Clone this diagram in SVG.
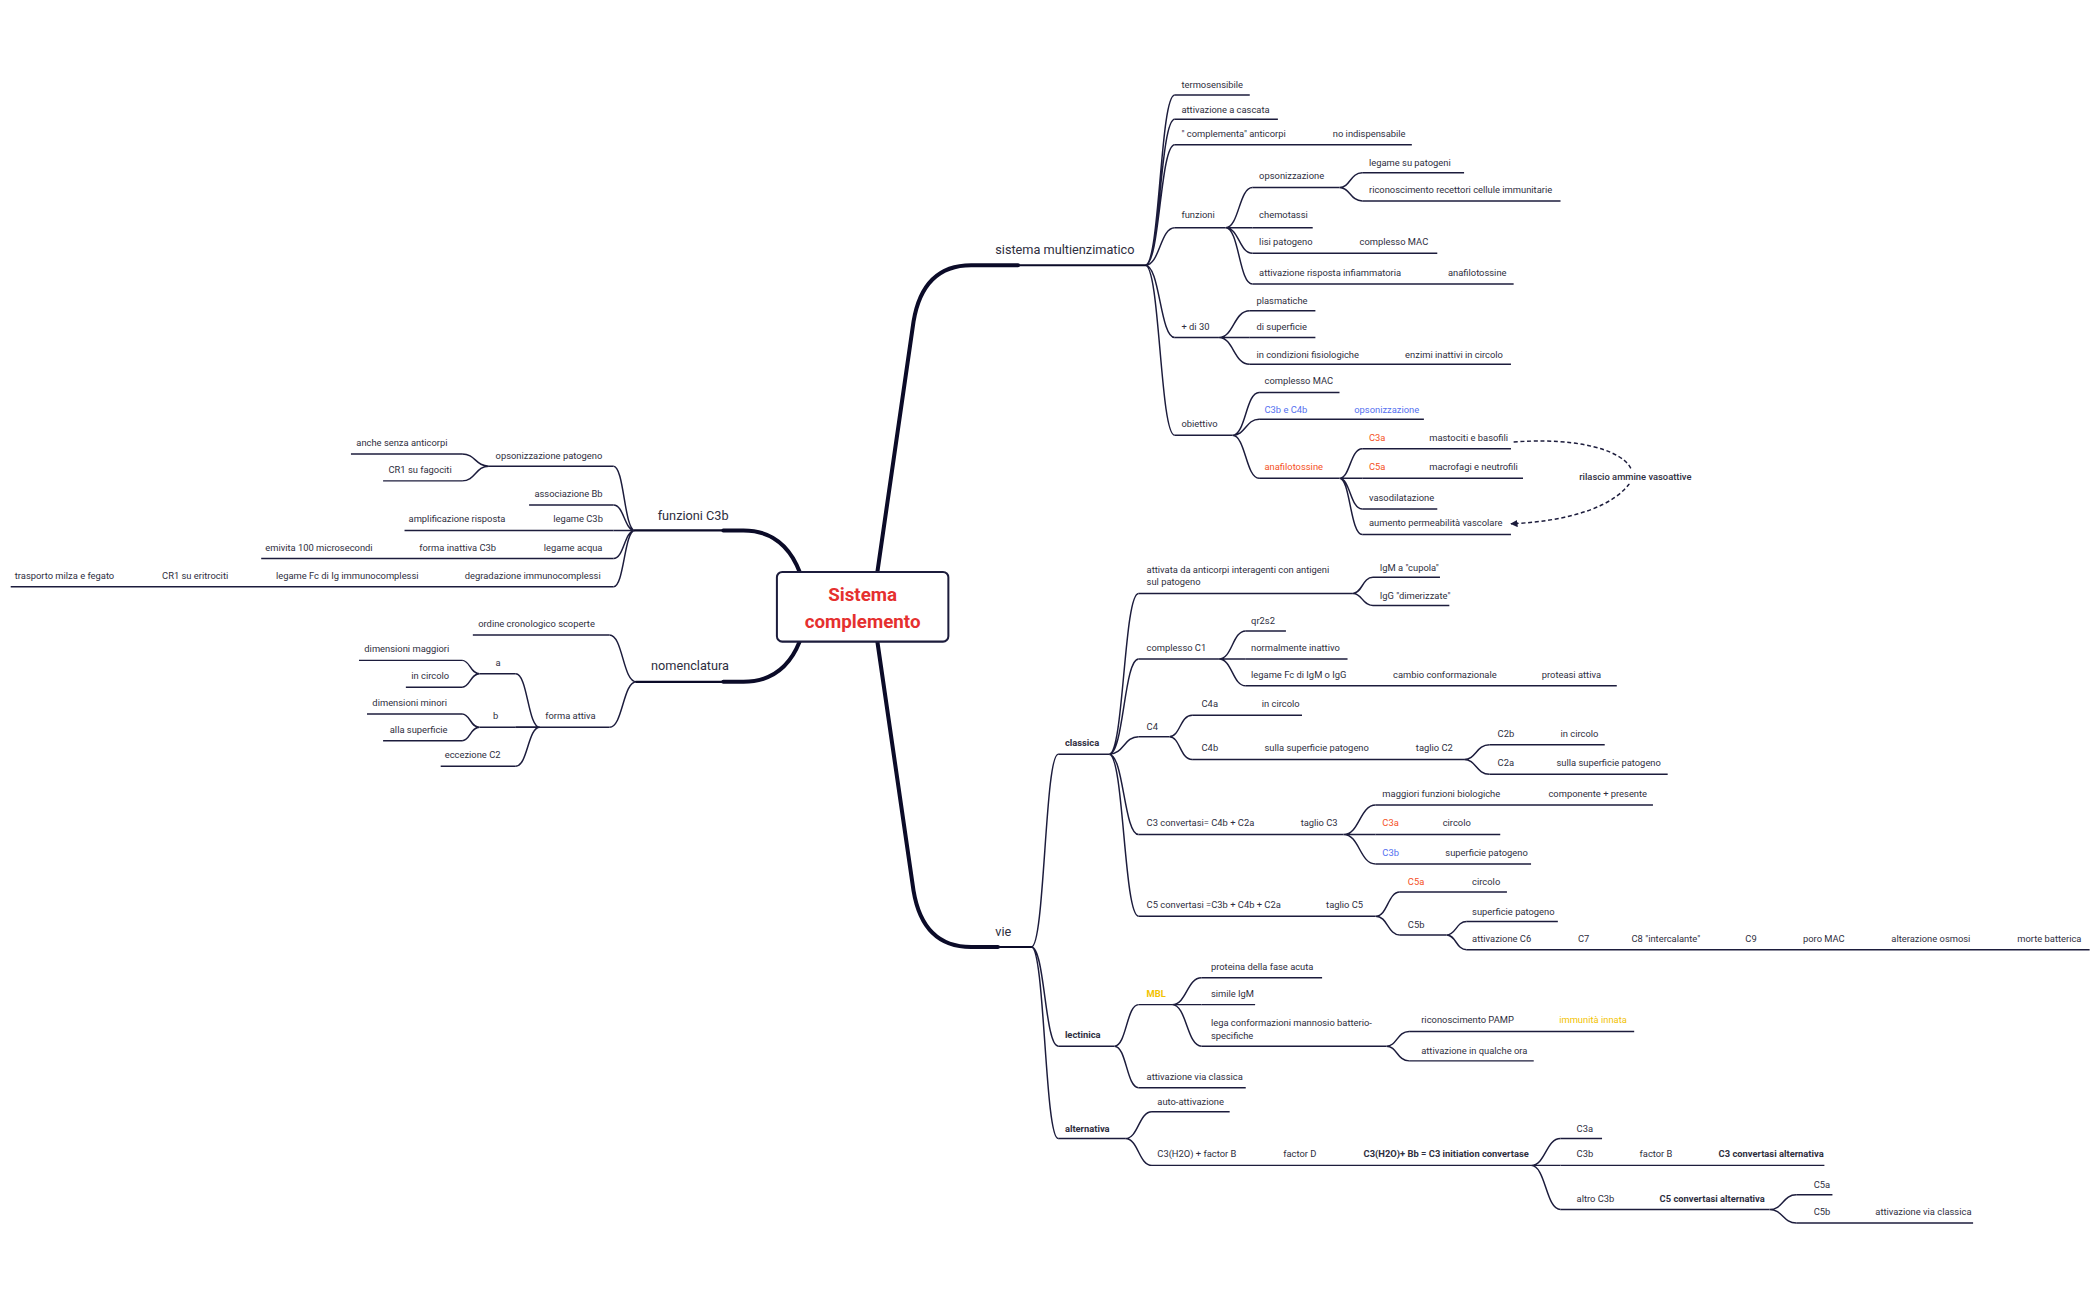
<svg xmlns="http://www.w3.org/2000/svg" width="2099" height="1300" viewBox="0 0 2099 1300">
<style>
text{font-family:Roboto,"Liberation Sans",sans-serif;fill:#2e2e40;font-size:7px}
.m{font-size:9.5px}
.b{font-weight:bold}
.r{fill:#f4511e}
.bl{fill:#5470f0}
.y{fill:#f2c200}
.u{stroke:#1c1c3c;stroke-width:1.1;fill:none}
.c{stroke:#1c1c3c;stroke-width:1.1;fill:none}
.k{stroke:#0b0b28;stroke-width:3;fill:none;stroke-linecap:round}
.root{font-size:14px;font-weight:bold;fill:#e5302f;text-anchor:middle}
</style>
<defs>
<marker id="ah" viewBox="0 0 10 10" refX="9" refY="5" markerWidth="5" markerHeight="5" orient="auto-start-reverse"><path d="M0 0L10 5L0 10z" fill="#1c1c3c"/></marker>
</defs>
<rect width="2099" height="1300" fill="#fff"/>
<g transform="scale(1.3395)">
<g id="connectors">
<path class="k" d="M655 427 L682 240 Q689 198 725 198 L760 198"/>
<path class="k" d="M655 479 L682 665 Q689 707 725 707 L745 707"/>
<path class="k" d="M597 427 Q585 396 555 396 L540 396"/>
<path class="k" d="M597 479 Q585 509 555 509 L540 509"/>
<path class="c" d="M855 198C866 198 866 71 877 71M855 198C866 198 866 89 877 89M855 198C866 198 866 108 877 108M855 198C866 198 866 170 877 170M855 198C866 198 866 252 877 252M855 198C866 198 866 325 877 325"/>
<path class="c" d="M915 170C925 170 925 140 935 140M915 170C925 170 925 170 935 170M915 170C925 170 925 189 935 189M915 170C925 170 925 212 935 212"/>
<path class="c" d="M1000 140C1008 140 1008 129 1017 129M1000 140C1008 140 1008 150 1017 150"/>
<path class="c" d="M910 252C921 252 921 232 933 232M910 252C921 252 921 252 933 252M910 252C921 252 921 272 933 272"/>
<path class="c" d="M920 325C930 325 930 293 940 293M920 325C930 325 930 313 940 313M920 325C930 325 930 357 940 357"/>
<path class="c" d="M1000 357C1008 357 1008 335 1017 335M1000 357C1008 357 1008 357 1017 357M1000 357C1008 357 1008 380 1017 380M1000 357C1008 357 1008 399 1017 399"/>
<path class="c" d="M770 707C780 707 780 563 790 563M770 707C780 707 780 781 790 781M770 707C780 707 780 850 790 850"/>
<path class="c" d="M828 563C839 563 839 443 850 443M828 563C839 563 839 492 850 492M828 563C839 563 839 550 850 550M828 563C839 563 839 623 850 623M828 563C839 563 839 684 850 684"/>
<path class="c" d="M1010 443C1017 443 1017 431 1025 431M1010 443C1017 443 1017 452 1025 452"/>
<path class="c" d="M910 492C920 492 920 471 930 471M910 492C920 492 920 492 930 492M910 492C920 492 920 512 930 512"/>
<path class="c" d="M873 550C881 550 881 534 890 534M873 550C881 550 881 567 890 567"/>
<path class="c" d="M1093 567C1102 567 1102 556 1112 556M1093 567C1102 567 1102 578 1112 578"/>
<path class="c" d="M1003 623C1015 623 1015 601 1027 601M1003 623C1015 623 1015 623 1027 623M1003 623C1015 623 1015 645 1027 645"/>
<path class="c" d="M1027 684C1036 684 1036 666 1045 666M1027 684C1036 684 1036 698 1045 698"/>
<path class="c" d="M1080 698C1087 698 1087 688 1095 688M1080 698C1087 698 1087 709 1095 709"/>
<path class="c" d="M832 781C841 781 841 750 850 750M832 781C841 781 841 812 850 812"/>
<path class="c" d="M875 750C886 750 886 730 897 730M875 750C886 750 886 750 897 750M875 750C886 750 886 781 897 781"/>
<path class="c" d="M1035 781C1043 781 1043 770 1052 770M1035 781C1043 781 1043 792 1052 792"/>
<path class="c" d="M840 850C850 850 850 830 860 830M840 850C850 850 850 870 860 870"/>
<path class="c" d="M1143 870C1154 870 1154 850 1165 850M1143 870C1154 870 1154 870 1165 870M1143 870C1154 870 1154 903 1165 903"/>
<path class="c" d="M1321 903C1331 903 1331 892 1341 892M1321 903C1331 903 1331 913 1341 913"/>
<path class="c" d="M474 396C466 396 466 348 458 348M474 396C466 396 466 377 458 377M474 396C466 396 466 396 458 396M474 396C466 396 466 417 458 417M474 396C466 396 466 438 458 438"/>
<path class="c" d="M365 348C355 348 355 339 345 339M365 348C355 348 355 359 345 359"/>
<path class="c" d="M475 509C465 509 465 474 455 474M475 509C465 509 465 543 455 543"/>
<path class="c" d="M403 543C394 543 394 503 385 503M403 543C394 543 394 543 385 543M403 543C394 543 394 572 385 572"/>
<path class="c" d="M358 503C351 503 351 493 345 493M358 503C351 503 351 513 345 513"/>
<path class="c" d="M358 543C351 543 351 533 345 533M358 543C351 543 351 553 345 553"/>
<path class="c" stroke-dasharray="3 2" marker-end="url(#ah)" d="M1130 330C1195 325 1232 345 1214 364C1196 384 1155 390 1128 391"/>
</g>
<g id="root"><rect x="580" y="427" width="128" height="52" rx="4" fill="#fff" stroke="#1c1c3c" stroke-width="1.5"/><text class="root" x="644" y="449">Sistema</text><text class="root" x="644" y="469">complemento</text></g>
<g id="n-sm"><path class="k" d="M760 198H855" style="stroke-width:1.6"/><text class="m" x="743" y="190">sistema multienzimatico</text></g>
<g id="n-vie"><path class="k" d="M745 707H770" style="stroke-width:1.6"/><text class="m" x="743" y="699">vie</text></g>
<g id="n-fc3b"><path class="k" d="M474 396H540" style="stroke-width:1.6"/><text class="m" x="491" y="388">funzioni C3b</text></g>
<g id="n-nom"><path class="k" d="M475 509H540" style="stroke-width:1.6"/><text class="m" x="486" y="500">nomenclatura</text></g>
<g id="sm-children">
<g id="n1"><path class="u" d="M877 71H933"/><text x="882" y="66">termosensibile</text></g>
<g id="n2"><path class="u" d="M877 89H954"/><text x="882" y="84">attivazione a cascata</text></g>
<g id="n3"><path class="u" d="M877 108H1054"/><text x="882" y="102">" complementa" anticorpi</text><text x="995" y="102">no indispensabile</text></g>
<g id="n4"><path class="u" d="M877 170H915"/><text x="882" y="163">funzioni</text></g>
<g id="n5"><path class="u" d="M935 140H1000"/><text x="940" y="134">opsonizzazione</text></g>
<g id="n6"><path class="u" d="M1017 129H1093"/><text x="1022" y="124">legame su patogeni</text></g>
<g id="n7"><path class="u" d="M1017 150H1165"/><text x="1022" y="144">riconoscimento recettori cellule immunitarie</text></g>
<g id="n8"><path class="u" d="M935 170H980"/><text x="940" y="163">chemotassi</text></g>
<g id="n9"><path class="u" d="M935 189H1073"/><text x="940" y="183">lisi patogeno</text><text x="1015" y="183">complesso MAC</text></g>
<g id="n10"><path class="u" d="M935 212H1130"/><text x="940" y="206">attivazione risposta infiammatoria</text><text x="1081" y="206">anafilotossine</text></g>
<g id="n11"><path class="u" d="M877 252H910"/><text x="882" y="246">+ di 30</text></g>
<g id="n12"><path class="u" d="M933 232H982"/><text x="938" y="227">plasmatiche</text></g>
<g id="n13"><path class="u" d="M933 252H982"/><text x="938" y="246">di superficie</text></g>
<g id="n14"><path class="u" d="M933 272H1128"/><text x="938" y="267">in condizioni fisiologiche</text><text x="1049" y="267">enzimi inattivi in circolo</text></g>
<g id="n15"><path class="u" d="M877 325H920"/><text x="882" y="319">obiettivo</text></g>
<g id="n16"><path class="u" d="M940 293H1000"/><text x="944" y="287">complesso MAC</text></g>
<g id="n17"><path class="u" d="M940 313H1063"/><text class="bl" x="944" y="308">C3b e C4b</text><text class="bl" x="1011" y="308">opsonizzazione</text></g>
<g id="n18"><path class="u" d="M940 357H1000"/><text class="r" x="944" y="351">anafilotossine</text></g>
<g id="n19"><path class="u" d="M1017 335H1128"/><text class="r" x="1022" y="329">C3a</text><text x="1067" y="329">mastociti e basofili</text></g>
<g id="n20"><path class="u" d="M1017 357H1137"/><text class="r" x="1022" y="351">C5a</text><text x="1067" y="351">macrofagi e neutrofili</text></g>
<g id="n21"><path class="u" d="M1017 380H1073"/><text x="1022" y="374">vasodilatazione</text></g>
<g id="n22"><path class="u" d="M1017 399H1128"/><text x="1022" y="393">aumento permeabilità vascolare</text></g>
<g id="n23"><rect x="1177" y="351" width="84" height="10" fill="#fff"/><text x="1179" y="358" style="font-weight:500">rilascio ammine vasoattive</text></g>
</g>
<g id="vie-children">
<g id="v1"><path class="u" d="M790 563H828"/><text class="b" x="795" y="557">classica</text></g>
<g id="v2"><path class="u" d="M850 443H1010"/><text x="856" y="428">attivata da anticorpi interagenti con antigeni</text><text x="856" y="437">sul patogeno</text></g>
<g id="v3"><path class="u" d="M1025 431H1075"/><text x="1030" y="426">IgM a "cupola"</text></g>
<g id="v4"><path class="u" d="M1025 452H1082"/><text x="1030" y="447">IgG "dimerizzate"</text></g>
<g id="v5"><path class="u" d="M850 492H910"/><text x="856" y="486">complesso C1</text></g>
<g id="v6"><path class="u" d="M930 471H960"/><text x="934" y="466">qr2s2</text></g>
<g id="v7"><path class="u" d="M930 492H1006"/><text x="934" y="486">normalmente inattivo</text></g>
<g id="v8"><path class="u" d="M930 512H1207"/><text x="934" y="506">legame Fc di IgM o IgG</text><text x="1040" y="506">cambio conformazionale</text><text x="1151" y="506">proteasi attiva</text></g>
<g id="v9"><path class="u" d="M850 550H873"/><text x="856" y="545">C4</text></g>
<g id="v10"><path class="u" d="M890 534H972"/><text x="897" y="528">C4a</text><text x="942" y="528">in circolo</text></g>
<g id="v11"><path class="u" d="M890 567H1093"/><text x="897" y="561">C4b</text><text x="944" y="561">sulla superficie patogeno</text><text x="1057" y="561">taglio C2</text></g>
<g id="v12"><path class="u" d="M1112 556H1198"/><text x="1118" y="550">C2b</text><text x="1165" y="550">in circolo</text></g>
<g id="v13"><path class="u" d="M1112 578H1245"/><text x="1118" y="572">C2a</text><text x="1162" y="572">sulla superficie patogeno</text></g>
<g id="v14"><path class="u" d="M850 623H1003"/><text x="856" y="617">C3 convertasi= C4b + C2a</text><text x="971" y="617">taglio C3</text></g>
<g id="v15"><path class="u" d="M1027 601H1234"/><text x="1032" y="595">maggiori funzioni biologiche</text><text x="1156" y="595">componente + presente</text></g>
<g id="v16"><path class="u" d="M1027 623H1120"/><text class="r" x="1032" y="617">C3a</text><text x="1077" y="617">circolo</text></g>
<g id="v17"><path class="u" d="M1027 645H1143"/><text class="bl" x="1032" y="639">C3b</text><text x="1079" y="639">superficie patogeno</text></g>
<g id="v18"><path class="u" d="M850 684H1027"/><text x="856" y="678">C5 convertasi =C3b + C4b + C2a</text><text x="990" y="678">taglio C5</text></g>
<g id="v19"><path class="u" d="M1045 666H1125"/><text class="r" x="1051" y="661">C5a</text><text x="1099" y="661">circolo</text></g>
<g id="v20"><path class="u" d="M1045 698H1080"/><text x="1051" y="693">C5b</text></g>
<g id="v21"><path class="u" d="M1095 688H1163"/><text x="1099" y="683">superficie patogeno</text></g>
<g id="v22"><path class="u" d="M1095 709H1560"/><text x="1099" y="703">attivazione C6</text><text x="1178" y="703">C7</text><text x="1218" y="703">C8 "intercalante"</text><text x="1303" y="703">C9</text><text x="1346" y="703">poro MAC</text><text x="1412" y="703">alterazione osmosi</text><text x="1506" y="703">morte batterica</text></g>
<g id="v23"><path class="u" d="M790 781H832"/><text class="b" x="795" y="775">lectinica</text></g>
<g id="v24"><path class="u" d="M850 750H875"/><text class="b y" x="856" y="744">MBL</text></g>
<g id="v25"><path class="u" d="M897 730H987"/><text x="904" y="724">proteina della fase acuta</text></g>
<g id="v26"><path class="u" d="M897 750H937"/><text x="904" y="744">simile IgM</text></g>
<g id="v27"><path class="u" d="M897 781H1035"/><text x="904" y="766">lega conformazioni  mannosio batterio-</text><text x="904" y="776">specifiche</text></g>
<g id="v28"><path class="u" d="M1052 770H1220"/><text x="1061" y="764">riconoscimento PAMP</text><text class="y" x="1164" y="764">immunità innata</text></g>
<g id="v29"><path class="u" d="M1052 792H1145"/><text x="1061" y="787">attivazione in qualche ora</text></g>
<g id="v30"><path class="u" d="M850 812H930"/><text x="856" y="806">attivazione via classica</text></g>
<g id="v31"><path class="u" d="M790 850H840"/><text class="b" x="795" y="845">alternativa</text></g>
<g id="v32"><path class="u" d="M860 830H918"/><text x="864" y="825">auto-attivazione</text></g>
<g id="v33"><path class="u" d="M860 870H1143"/><text x="864" y="864">C3(H2O) + factor B</text><text x="958" y="864">factor D</text><text class="b" x="1018" y="864">C3(H2O)+ Bb = C3 initiation convertase</text></g>
<g id="v34"><path class="u" d="M1165 850H1196"/><text x="1177" y="845">C3a</text></g>
<g id="v35"><path class="u" d="M1165 870H1362"/><text x="1177" y="864">C3b</text><text x="1224" y="864">factor B</text><text class="b" x="1283" y="864">C3 convertasi alternativa</text></g>
<g id="v36"><path class="u" d="M1165 903H1321"/><text x="1177" y="897">altro C3b</text><text class="b" x="1239" y="897">C5 convertasi alternativa</text></g>
<g id="v37"><path class="u" d="M1341 892H1368"/><text x="1354" y="887">C5a</text></g>
<g id="v38"><path class="u" d="M1341 913H1473"/><text x="1354" y="907">C5b</text><text x="1400" y="907">attivazione via classica</text></g>
</g>
<g id="left-children">
<g id="l1"><path class="u" d="M365 348H458"/><text x="370" y="343">opsonizzazione patogeno</text></g>
<g id="l2"><path class="u" d="M262 339H345"/><text x="266" y="333">anche senza anticorpi</text></g>
<g id="l3"><path class="u" d="M286 359H345"/><text x="290" y="353">CR1 su fagociti</text></g>
<g id="l4"><path class="u" d="M395 377H458"/><text x="399" y="371">associazione Bb</text></g>
<g id="l5"><path class="u" d="M302 396H458"/><text x="305" y="390">amplificazione risposta</text><text x="413" y="390">legame C3b</text></g>
<g id="l6"><path class="u" d="M195 417H458"/><text x="198" y="411">emivita 100 microsecondi</text><text x="313" y="411">forma inattiva C3b</text><text x="406" y="411">legame acqua</text></g>
<g id="l7"><path class="u" d="M8 438H458"/><text x="11" y="432">trasporto milza e fegato</text><text x="121" y="432">CR1 su eritrociti</text><text x="206" y="432">legame Fc di Ig immunocomplessi</text><text x="347" y="432">degradazione immunocomplessi</text></g>
<g id="l8"><path class="u" d="M353 474H455"/><text x="357" y="468">ordine cronologico scoperte</text></g>
<g id="l9"><path class="u" d="M385 543H455"/><text x="407" y="537">forma attiva</text></g>
<g id="l10"><path class="u" d="M358 503H385"/><text x="370" y="497">a</text></g>
<g id="l11"><path class="u" d="M268 493H345"/><text x="272" y="487">dimensioni maggiori</text></g>
<g id="l12"><path class="u" d="M303 513H345"/><text x="307" y="507">in circolo</text></g>
<g id="l13"><path class="u" d="M358 543H385"/><text x="368" y="537">b</text></g>
<g id="l14"><path class="u" d="M274 533H345"/><text x="278" y="527">dimensioni minori</text></g>
<g id="l15"><path class="u" d="M286 553H345"/><text x="291" y="547">alla superficie</text></g>
<g id="l16"><path class="u" d="M329 572H385"/><text x="332" y="566">eccezione C2</text></g>
</g>
</g>
</svg>
